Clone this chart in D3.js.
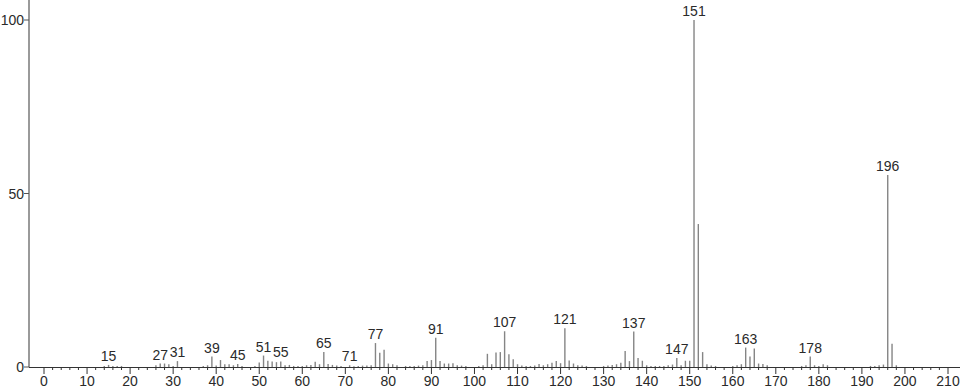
<!DOCTYPE html>
<html>
<head>
<meta charset="utf-8">
<script src="https://cdn.jsdelivr.net/npm/d3@7"></script>
<style>
  html, body { margin: 0; padding: 0; background: #fff; }
  svg { display: block; }
  text { font-family: "Liberation Sans", Arial, sans-serif; fill: #2a2a2a; }
</style>
</head>
<body>
<svg id="chart" width="966" height="389"></svg>
<script>
// m/z values and relative intensities
const mz = [
  14, 15, 16, 17, 18, 26, 27, 28, 29, 30, 31,
  37, 38, 39, 40, 41, 42, 43, 44, 45, 46,
  49, 50, 51, 52, 53, 54, 55, 56, 57, 58, 59, 60, 61, 62, 63, 64, 65, 66, 67, 68, 69,
  71, 72, 73, 74, 75, 76, 77, 78, 79, 80, 81, 82,
  84, 85, 86, 87, 88, 89, 90, 91, 92, 93, 94, 95, 96, 97, 98,
  101, 102, 103, 104, 105, 106, 107, 108, 109, 110, 111, 112, 113, 114,
  115, 116, 117, 118, 119, 120, 121, 122, 123, 124, 125, 126,
  130, 131, 132, 133, 134, 135, 136, 137, 138, 139, 140,
  141, 142, 143, 144, 145, 146, 147, 148, 149, 150, 151, 152, 153, 154, 155, 156,
  160, 161, 162, 163, 164, 165, 166, 167, 168,
  176, 177, 178, 179, 180, 181, 182,
  192, 193, 194, 195, 196, 197, 198
];
const intensity = [
  0.3, 0.6, 0.3, 0.3, 0.3, 0.5, 1.0, 1.0, 0.8, 0.3, 1.7,
  0.3, 0.5, 3.0, 0.4, 2.0, 0.8, 0.8, 0.5, 0.9, 0.3,
  0.3, 1.3, 3.3, 1.8, 1.6, 1.4, 1.6, 0.5, 0.6, 0.3, 0.3, 0.3, 0.5, 0.6, 1.5, 0.8, 4.3, 0.9, 0.6, 0.4, 0.3,
  0.5, 0.2, 0.3, 0.4, 0.4, 0.5, 6.9, 4.1, 5.0, 1.0, 0.8, 0.5,
  0.3, 0.3, 0.3, 0.4, 0.5, 1.7, 2.0, 8.4, 1.7, 1.0, 1.0, 1.1, 0.5, 0.4, 0.3,
  0.3, 0.5, 3.8, 0.8, 4.2, 4.3, 10.3, 3.7, 2.2, 0.8, 0.4, 0.3, 0.3, 0.4,
  0.9, 0.5, 0.8, 1.2, 1.7, 1.1, 11.2, 1.9, 1.0, 0.5, 0.4, 0.3,
  0.3, 0.4, 0.6, 0.8, 1.2, 4.6, 1.7, 10.2, 2.6, 1.8, 0.5,
  0.3, 0.3, 0.3, 0.3, 0.5, 0.7, 2.6, 0.5, 1.8, 1.8, 100, 41.2, 4.3, 0.8, 0.4, 0.3,
  0.3, 0.5, 0.8, 5.6, 3.0, 5.3, 1.0, 0.9, 0.5,
  0.3, 0.5, 3.0, 0.5, 0.3, 0.8, 0.5,
  0.3, 0.3, 0.5, 0.7, 55.3, 6.7, 0.5
];
const peakLabels = [15, 27, 31, 39, 45, 51, 55, 65, 71, 77, 91, 107, 121, 137, 147, 151, 163, 178, 196];
const xTicks = d3.range(0, 211, 10);
const xMinorTicks = d3.range(0, 211, 2).filter(v => v % 10 !== 0);
const yTicks = [0, 50, 100];

const svg = d3.select("#chart");
const x = d3.scaleLinear().domain([0, 210]).range([44, 948]);
const y = d3.scaleLinear().domain([0, 100]).range([367, 20]);

// y axis line (gray)
svg.append("line")
  .attr("x1", 29).attr("x2", 29).attr("y1", 0).attr("y2", y(0))
  .attr("stroke", "#9a9a9a").attr("stroke-width", 2);

// y ticks and labels
const yg = svg.append("g");
yg.selectAll("line").data(yTicks).join("line")
  .attr("x1", 24).attr("x2", 29)
  .attr("y1", d => y(d)).attr("y2", d => y(d))
  .attr("stroke", "#555").attr("stroke-width", 1);
yg.selectAll("text").data(yTicks).join("text")
  .attr("x", 24).attr("y", d => y(d) + 5)
  .attr("text-anchor", "end").attr("font-size", 14)
  .text(d => d);

// bars
svg.append("g").selectAll("line").data(mz).join("line")
  .attr("x1", d => x(d)).attr("x2", d => x(d))
  .attr("y1", y(0))
  .attr("y2", (d, i) => y(intensity[i]))
  .attr("stroke", "#858585").attr("stroke-width", 1.4);

// x axis line
svg.append("line")
  .attr("x1", 29).attr("x2", 960).attr("y1", y(0) + 0.5).attr("y2", y(0) + 0.5)
  .attr("stroke", "#333").attr("stroke-width", 1);

// major ticks
svg.append("g").selectAll("line").data(xTicks).join("line")
  .attr("x1", d => x(d)).attr("x2", d => x(d))
  .attr("y1", y(0)).attr("y2", y(0) + 7)
  .attr("stroke", "#333").attr("stroke-width", 1);
// minor ticks
svg.append("g").selectAll("line").data(xMinorTicks).join("line")
  .attr("x1", d => x(d)).attr("x2", d => x(d))
  .attr("y1", y(0)).attr("y2", y(0) + 3)
  .attr("stroke", "#333").attr("stroke-width", 1);
// x tick labels
svg.append("g").selectAll("text").data(xTicks).join("text")
  .attr("x", d => x(d)).attr("y", 386)
  .attr("text-anchor", "middle").attr("font-size", 14)
  .text(d => d);

// peak labels
svg.append("g").selectAll("text").data(peakLabels).join("text")
  .attr("x", d => x(d))
  .attr("y", d => y(intensity[mz.indexOf(d)]) - 4)
  .attr("text-anchor", "middle").attr("font-size", 14)
  .text(d => d);
</script>
</body>
</html>
